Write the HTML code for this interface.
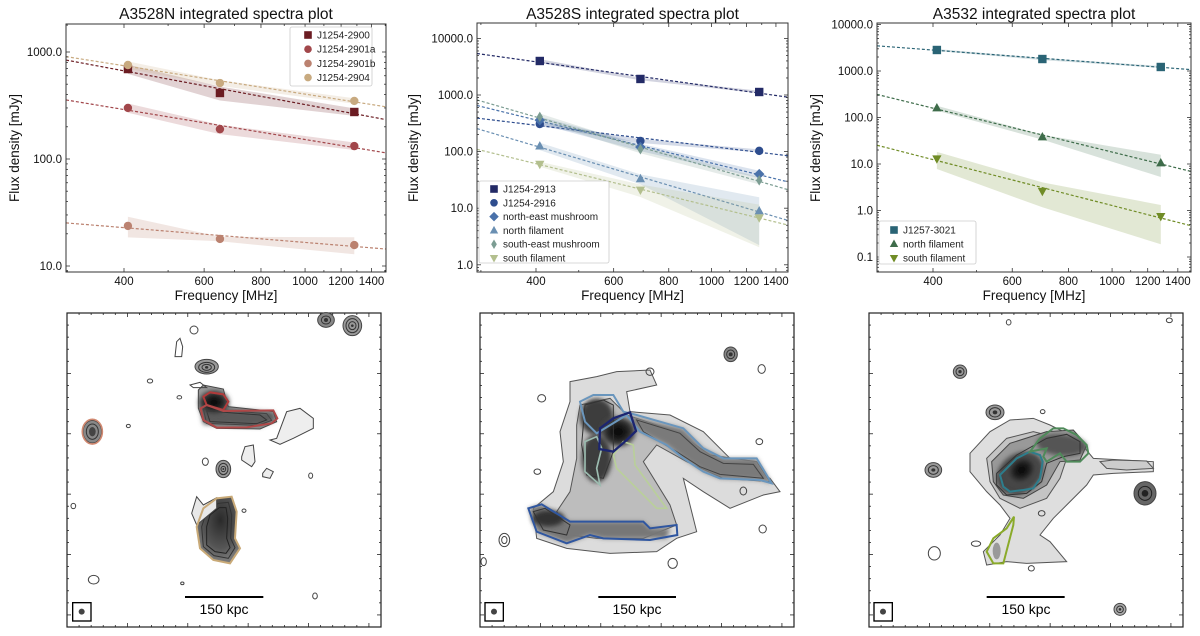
<!DOCTYPE html>
<html><head><meta charset="utf-8">
<style>
html,body{margin:0;padding:0;background:#fff;}
svg{display:block;font-family:"Liberation Sans","DejaVu Sans",sans-serif;}
</style></head>
<body>
<svg id="fig" width="1200" height="636" viewBox="0 0 1200 636" xmlns="http://www.w3.org/2000/svg">
<defs>
<filter id="blur3" x="-30%" y="-30%" width="160%" height="160%"><feGaussianBlur stdDeviation="7"/></filter>
<filter id="blur6" x="-30%" y="-30%" width="160%" height="160%"><feGaussianBlur stdDeviation="20"/></filter>
<radialGradient id="core" cx="50%" cy="50%" r="50%"><stop offset="0" stop-color="#000"/><stop offset="0.6" stop-color="#222"/><stop offset="1" stop-color="#555"/></radialGradient>
<radialGradient id="mid" cx="55%" cy="35%" r="60%"><stop offset="0" stop-color="#2a2a2a"/><stop offset="0.7" stop-color="#555"/><stop offset="1" stop-color="#777"/></radialGradient>
</defs>

<!-- ============ IMAGE PANEL 1 ============ -->
<g>
<rect x="67" y="313" width="314" height="314" fill="#fff" stroke="#222" stroke-width="1.2"/>
<g transform="translate(60,305) scale(0.33333)" fill="none" stroke-width="3">
  <path d="M415,255 L430,240 L490,252 L500,290 L505,305 L600,315 L640,320 L650,350 L600,372 L470,370 L430,350 L415,310 Z" fill="#9a9a9a" stroke="#444"/>
  <path d="M420,305 L640,322 L645,345 L600,365 L430,358 Z" fill="#5a5a5a" stroke="none" filter="url(#blur3)"/>
  <path d="M440,318 L600,330 L620,345 L590,356 L450,350 Z" stroke="#333"/>
  <path d="M430,312 L620,326 L635,346 L595,361 L440,355 Z" stroke="#444"/>
  <ellipse cx="462" cy="292" rx="46" ry="36" fill="url(#core)" filter="url(#blur3)"/>
  <path d="M410,665 L430,610 L470,580 L515,575 L530,620 L525,700 L540,730 L510,775 L460,765 L420,730 Z" fill="url(#mid)"/>
  <path d="M425,665 L440,620 L475,595 L505,592 L515,630 L512,700 L525,728 L505,760 L462,752 L430,725 Z" stroke="#333"/>
  <path d="M440,665 L450,630 L478,608 L498,608 L503,640 L500,700 L510,728 L498,745 L465,740 L440,720 Z" stroke="#222"/>
  <path d="M395,625 L410,575 L430,600 L470,578 L470,610 L410,660 Z" fill="#e8e8e8" stroke="#444"/>
  <path d="M650,400 L680,320 L720,310 L760,340 L760,370 L700,400 L660,418 L630,405 Z" fill="#eee" stroke="#444"/>
  <path d="M545,455 L555,425 L580,420 L585,470 L575,485 L545,465 Z" fill="#eee" stroke="#444"/>
  <path d="M608,505 L620,490 L640,500 L630,520 L608,515 Z" fill="#eee" stroke="#444"/>
  <path d="M350,110 L360,100 L368,125 L365,155 L345,155 Z" stroke="#444"/>
  <path d="M390,240 L420,232 L440,248 L400,248 Z" stroke="#444"/>
  <ellipse cx="440" cy="185" rx="35" ry="22" fill="#999" stroke="#444"/>
  <ellipse cx="440" cy="187" rx="24" ry="15" stroke="#333"/>
  <ellipse cx="440" cy="187" rx="14" ry="9" stroke="#333"/>
  <ellipse cx="440" cy="187" rx="5" ry="4" fill="#333"/>
  <ellipse cx="490" cy="492" rx="22" ry="26" fill="#999" stroke="#444"/>
  <ellipse cx="490" cy="492" rx="14" ry="17" stroke="#333"/>
  <ellipse cx="490" cy="492" rx="7" ry="8" stroke="#333"/>
  <ellipse cx="490" cy="492" rx="3" ry="3" fill="#333"/>
  <ellipse cx="798" cy="45" rx="25" ry="22" fill="#888" stroke="#444"/>
  <ellipse cx="798" cy="45" rx="14" ry="12" stroke="#333"/>
  <ellipse cx="798" cy="45" rx="6" ry="6" fill="#333"/>
  <ellipse cx="877" cy="62" rx="28" ry="30" fill="#999" stroke="#444"/>
  <ellipse cx="877" cy="62" rx="19" ry="21" stroke="#333"/>
  <ellipse cx="877" cy="62" rx="11" ry="12" stroke="#333"/>
  <ellipse cx="877" cy="62" rx="4" ry="4" fill="#333"/>
  <ellipse cx="97" cy="380" rx="28" ry="34" fill="#888" stroke="#444"/>
  <ellipse cx="97" cy="380" rx="18" ry="23" stroke="#333"/>
  <ellipse cx="97" cy="380" rx="10" ry="14" fill="#444"/>
  <ellipse cx="97" cy="380" rx="30" ry="37" stroke="#d08870" stroke-width="5"/>
  <path d="M430,275 L450,262 L490,268 L505,290 L490,315 L440,300 Z" stroke="#b03a3a" stroke-width="6"/>
  <path d="M422,310 L440,300 L490,318 L640,316 L652,340 L635,355 L560,367 L470,368 L430,345 Z" stroke="#b04848" stroke-width="6"/>
  <path d="M410,665 L430,610 L470,580 L515,575 L530,620 L525,700 L540,730 L510,775 L460,765 L420,730 Z" stroke="#c9aa78" stroke-width="6"/>
  <ellipse cx="402" cy="75" rx="12" ry="12" stroke="#444"/>
  <ellipse cx="270" cy="228" rx="8" ry="6" stroke="#444"/>
  <ellipse cx="358" cy="277" rx="7" ry="5" stroke="#444"/>
  <ellipse cx="205" cy="363" rx="6" ry="5" stroke="#444"/>
  <ellipse cx="436" cy="470" rx="9" ry="11" stroke="#444"/>
  <ellipse cx="752" cy="512" rx="6" ry="8" stroke="#444"/>
  <ellipse cx="40" cy="603" rx="7" ry="8" stroke="#444"/>
  <ellipse cx="552" cy="617" rx="6" ry="5" stroke="#444"/>
  <ellipse cx="101" cy="824" rx="16" ry="13" stroke="#444"/>
  <ellipse cx="367" cy="835" rx="5" ry="4" stroke="#444"/>
  <ellipse cx="765" cy="873" rx="7" ry="9" stroke="#444"/>
  <line x1="375" y1="876" x2="610" y2="876" stroke="#000" stroke-width="6"/>
  <rect x="38" y="893" width="55" height="55" stroke="#000" stroke-width="4" fill="#fff"/>
  <circle cx="65" cy="920" r="9" fill="#444"/>
</g>
<text x="224" y="614" font-size="14" text-anchor="middle">150 kpc</text>
</g>

<!-- ============ IMAGE PANEL 2 ============ -->
<g>
<rect x="480" y="313" width="314" height="314" fill="#fff" stroke="#222" stroke-width="1.2"/>
<g transform="translate(470,305) scale(0.33333)" fill="none" stroke-width="3">
  <path d="M300,230 L380,215 L440,200 L540,195 L560,240 L470,260 L480,320 L600,330 L700,380 L780,460 L900,520 L930,560 L880,570 L780,610 L700,560 L640,520 L660,600 L680,680 L620,700 L560,740 L420,745 L290,730 L200,700 L190,610 L250,560 L280,470 L270,380 L300,290 Z" fill="#dcdcdc" stroke="#555"/>
  <path d="M330,300 L420,280 L470,330 L620,380 L720,450 L860,470 L900,530 L760,520 L650,470 L560,420 L520,470 L600,600 L620,660 L520,700 L380,700 L300,690 L260,620 L300,560 L320,460 L320,360 Z" fill="#bdbdbd" stroke="#555"/>
  <path d="M470,330 L640,370 L700,430 L760,460 L860,460 L905,535 L870,525 L750,520 L700,500 L640,460 L590,420 L510,380 Z" fill="#7a7a7a" filter="url(#blur3)"/>
  <path d="M500,345 L630,385 L690,440 L760,475 L850,478 L880,520 L750,508 L690,485 L620,440 L520,380 Z" stroke="#444"/>
  <ellipse cx="380" cy="460" rx="45" ry="72" fill="#3c3c3c" filter="url(#blur3)"/>
  <ellipse cx="380" cy="335" rx="50" ry="55" fill="#3c3c3c" filter="url(#blur3)"/>
  <ellipse cx="445" cy="380" rx="52" ry="45" fill="url(#core)" filter="url(#blur3)"/>
  <path d="M345,300 L400,285 L430,300 L430,440 L400,520 L350,510 L335,420 Z" stroke="#333"/>
  <path d="M175,610 L215,598 L300,650 L520,650 L540,670 L600,670 L590,700 L400,700 L360,690 L290,715 L200,680 Z" fill="#777" filter="url(#blur3)"/>
  <ellipse cx="235" cy="640" rx="48" ry="24" fill="#333" filter="url(#blur3)"/>
  <path d="M190,620 L225,610 L300,660 L290,690 L220,675 Z" stroke="#333"/>
  <path d="M330,290 L370,270 L430,270 L460,320 L500,330 L640,370 L700,430 L760,460 L860,460 L905,535 L870,525 L750,520 L700,500 L640,460 L590,420 L510,380 L470,330 L380,385 L345,350 Z" stroke="#6a96bd" stroke-width="6"/>
  <path d="M345,410 L380,395 L395,430 L380,490 L390,540 L345,500 Z" stroke="#9cbcb0" stroke-width="5"/>
  <path d="M430,450 L460,410 L490,420 L495,480 L590,610 L560,610 L470,520 L440,490 Z" stroke="#b9cf9a" stroke-width="5"/>
  <path d="M175,610 L215,598 L300,650 L520,650 L540,670 L620,660 L622,690 L540,705 L400,700 L360,690 L290,715 L200,680 Z" stroke="#2f56a0" stroke-width="6"/>
  <path d="M390,370 L430,340 L480,322 L498,378 L470,405 L430,440 L388,432 Z" stroke="#1c2570" stroke-width="7"/>
  <ellipse cx="782" cy="148" rx="20" ry="22" fill="#888" stroke="#444"/>
  <ellipse cx="782" cy="148" rx="12" ry="13" stroke="#333"/>
  <ellipse cx="782" cy="148" rx="6" ry="6" fill="#333"/>
  <ellipse cx="215" cy="280" rx="12" ry="11" stroke="#444"/>
  <ellipse cx="540" cy="200" rx="12" ry="11" stroke="#444"/>
  <ellipse cx="875" cy="192" rx="11" ry="13" stroke="#444"/>
  <ellipse cx="868" cy="410" rx="10" ry="9" stroke="#444"/>
  <ellipse cx="202" cy="500" rx="10" ry="8" stroke="#444"/>
  <ellipse cx="820" cy="558" rx="10" ry="12" stroke="#444"/>
  <ellipse cx="878" cy="672" rx="11" ry="12" stroke="#444"/>
  <ellipse cx="103" cy="705" rx="16" ry="20" stroke="#444"/>
  <ellipse cx="103" cy="705" rx="8" ry="11" stroke="#444"/>
  <ellipse cx="608" cy="775" rx="14" ry="15" stroke="#444"/>
  <ellipse cx="41" cy="770" rx="8" ry="12" stroke="#444"/>
  <line x1="385" y1="876" x2="618" y2="876" stroke="#000" stroke-width="6"/>
  <rect x="45" y="893" width="55" height="55" stroke="#000" stroke-width="4" fill="#fff"/>
  <circle cx="72" cy="920" r="9" fill="#444"/>
</g>
<text x="637" y="614" font-size="14" text-anchor="middle">150 kpc</text>
</g>

<!-- ============ IMAGE PANEL 3 ============ -->
<g>
<rect x="869" y="313" width="314" height="314" fill="#fff" stroke="#222" stroke-width="1.2"/>
<g transform="translate(860,305) scale(0.33333)" fill="none" stroke-width="3">
  <path d="M330,445 L390,380 L450,345 L520,340 L570,360 L650,400 L700,460 L880,470 L880,500 L760,505 L700,510 L680,540 L620,600 L580,640 L540,690 L570,710 L620,770 L500,775 L440,770 L380,780 L370,740 L420,690 L450,640 L420,600 L380,560 L330,500 Z" fill="#dedede" stroke="#555"/>
  <path d="M380,460 L440,400 L520,380 L600,400 L620,460 L600,520 L560,580 L480,610 L420,580 L390,530 Z" fill="#c4c4c4" stroke="#555"/>
  <path d="M395,470 L450,415 L560,380 L640,375 L680,420 L660,465 L600,470 L560,540 L490,580 L430,570 L400,530 Z" fill="#999" stroke="#444"/>
  <ellipse cx="605" cy="420" rx="75" ry="32" fill="#555" filter="url(#blur3)" transform="rotate(5 605 420)"/>
  <ellipse cx="480" cy="505" rx="75" ry="58" fill="#444" filter="url(#blur3)" transform="rotate(-35 480 505)"/>
  <ellipse cx="485" cy="495" rx="48" ry="40" fill="url(#core)" filter="url(#blur3)" transform="rotate(-35 485 495)"/>
  <path d="M410,505 L470,450 L560,400 L620,388 L660,410 L660,445 L610,455 L560,475 L545,530 L500,565 L440,570 L410,540 Z" stroke="#333"/>
  <path d="M420,510 L470,460 L510,440 L540,450 L548,470 L540,520 L520,550 L490,555 L450,560 L430,545 Z" stroke="#2d7d8c" stroke-width="6"/>
  <path d="M510,440 L540,400 L580,370 L610,370 L650,390 L680,420 L685,445 L660,470 L620,470 L600,445 L560,470 L550,455 L560,430 Z" stroke="#4f8a5a" stroke-width="6"/>
  <ellipse cx="410" cy="738" rx="12" ry="25" fill="#999"/>
  <path d="M380,740 L400,700 L440,670 L462,635 L460,660 L430,775 L400,775 Z" stroke="#8aaa2a" stroke-width="6"/>
  <path d="M720,470 L760,465 L860,468 L880,490 L800,495 L740,490 Z" fill="#ccc" stroke="#555"/>
  <ellipse cx="300" cy="200" rx="20" ry="20" fill="#999" stroke="#444"/><ellipse cx="300" cy="200" rx="12" ry="12" stroke="#333"/><ellipse cx="300" cy="200" rx="5" ry="5" fill="#333"/>
  <ellipse cx="405" cy="322" rx="27" ry="22" fill="#999" stroke="#444"/><ellipse cx="405" cy="322" rx="17" ry="14" stroke="#333"/><ellipse cx="405" cy="322" rx="7" ry="6" fill="#333"/>
  <ellipse cx="220" cy="495" rx="25" ry="22" fill="#999" stroke="#444"/><ellipse cx="220" cy="495" rx="15" ry="13" stroke="#333"/><ellipse cx="220" cy="495" rx="6" ry="5" fill="#333"/>
  <ellipse cx="855" cy="565" rx="33" ry="35" fill="#666" stroke="#444"/><ellipse cx="855" cy="565" rx="20" ry="21" stroke="#222"/><ellipse cx="855" cy="565" rx="10" ry="10" fill="#222"/>
  <ellipse cx="780" cy="913" rx="18" ry="18" fill="#aaa" stroke="#444"/><ellipse cx="780" cy="913" rx="10" ry="10" stroke="#333"/><ellipse cx="780" cy="913" rx="4" ry="4" fill="#333"/>
  <ellipse cx="446" cy="52" rx="7" ry="8" stroke="#444"/>
  <ellipse cx="928" cy="46" rx="9" ry="7" stroke="#444"/>
  <ellipse cx="548" cy="320" rx="7" ry="6" stroke="#444"/>
  <ellipse cx="348" cy="716" rx="14" ry="8" stroke="#444"/>
  <ellipse cx="223" cy="745" rx="18" ry="20" stroke="#444"/>
  <ellipse cx="514" cy="790" rx="9" ry="8" stroke="#444"/>
  <ellipse cx="545" cy="625" rx="10" ry="8" stroke="#444"/>
  <line x1="380" y1="876" x2="614" y2="876" stroke="#000" stroke-width="6"/>
  <rect x="42" y="893" width="55" height="55" stroke="#000" stroke-width="4" fill="#fff"/>
  <circle cx="69" cy="920" r="9" fill="#444"/>
</g>
<text x="1026" y="614" font-size="14" text-anchor="middle">150 kpc</text>
</g>

<g id="imgticks"></g>
<g id="charts"></g>
</svg>

<script>
// ---------- Data: panel A3528N ----------
const freqA = [408, 650, 1283];
const namesA = ["J1254-2900", "J1254-2901a", "J1254-2901b", "J1254-2904"];
const fluxA_2900 = [693, 414, 275];
const fluxA_2901a = [300, 190, 132];
const fluxA_2901b = [23.7, 17.9, 15.7];
const fluxA_2904 = [756, 513, 349];
const errA_2900 = [0.10, 0.15, 0.08];
const errA_2901a = [0.10, 0.10, 0.08];
const errA_2901b = [0.22, 0.05, 0.18];
const errA_2904 = [0.08, 0.06, 0.06];

// ---------- Data: panel A3528S ----------
const freqB = [408, 690, 1283];
const namesB = ["J1254-2913", "J1254-2916", "north-east mushroom", "north filament", "south-east mushroom", "south filament"];
const fluxB_2913 = [3990, 1920, 1130];
const fluxB_2916 = [307, 154, 103];
const fluxB_nem = [360, 120, 40];
const fluxB_nf = [125, 33, 8.9];
const fluxB_sem = [410, 110, 31];
const fluxB_sf = [60, 21, 6.8];
const errB_2913 = [0.08, 0.05, 0.05];
const errB_2916 = [0.08, 0.08, 0.06];
const errB_nem = [0.15, 0.15, 0.15];
const errB_nf = [0.15, 0.2, 0.75];
const errB_sem = [0.15, 0.15, 0.15];
const errB_sf = [0.1, 0.25, 0.7];

// ---------- Data: panel A3532 ----------
const freqC = [408, 700, 1283];
const namesC = ["J1257-3021", "north filament", "south filament"];
const fluxC_3021 = [2830, 1810, 1220];
const fluxC_nf = [160, 38, 10.5];
const fluxC_sf = [13, 2.6, 0.75];
const errC_3021 = [0.05, 0.05, 0.05];
const errC_nf = [0.12, 0.12, 0.5];
const errC_sf = [0.4, 0.55, 0.75];

const xTickLabels = [400, 600, 800, 1000, 1200, 1400];
const xMinorTicks = [300, 500, 700, 900, 1100, 1300, 1500];

const NS = "http://www.w3.org/2000/svg";
function mk(tag, attrs, parent) {
  const e = document.createElementNS(NS, tag);
  for (const k in attrs) e.setAttribute(k, attrs[k]);
  if (parent) parent.appendChild(e);
  return e;
}

function marker(g, shape, x, y, color, s) {
  let e;
  if (shape === "s") e = mk("rect", {x: x - s, y: y - s, width: 2 * s, height: 2 * s, fill: color}, g);
  else if (shape === "o") e = mk("circle", {cx: x, cy: y, r: s, fill: color}, g);
  else if (shape === "D") e = mk("polygon", {points: `${x},${y - s * 1.25} ${x + s * 1.25},${y} ${x},${y + s * 1.25} ${x - s * 1.25},${y}`, fill: color}, g);
  else if (shape === "d") e = mk("polygon", {points: `${x},${y - s * 1.25} ${x + s * 0.75},${y} ${x},${y + s * 1.25} ${x - s * 0.75},${y}`, fill: color}, g);
  else if (shape === "^") e = mk("polygon", {points: `${x},${y - s * 1.2} ${x + s * 1.1},${y + s * 0.8} ${x - s * 1.1},${y + s * 0.8}`, fill: color}, g);
  else e = mk("polygon", {points: `${x},${y + s * 1.2} ${x + s * 1.1},${y - s * 0.8} ${x - s * 1.1},${y - s * 0.8}`, fill: color}, g);
  return e;
}

function panel(cfg) {
  const root = document.getElementById("charts");
  const g = mk("g", {}, root);
  
  
  const L = cfg.box[0], T = cfg.box[1], R = cfg.box[2], B = cfg.box[3];
  const xs = f => cfg.x400 + cfg.xdec * Math.log10(f / 400);
  const ys = v => cfg.y1000 - cfg.ydec * (Math.log10(v) - 3);
  const clip = mk("clipPath", {id: cfg.id + "-clip"}, g);
  mk("rect", {x: L, y: T, width: R - L, height: B - T}, clip);
  const plot = mk("g", {"clip-path": `url(#${cfg.id}-clip)`}, g);
  const fmin = 400 * Math.pow(10, (L - cfg.x400) / cfg.xdec);
  const fmax = 400 * Math.pow(10, (R - cfg.x400) / cfg.xdec);
  cfg.series.forEach(s => {
    let up = [], lo = [];
    for (let i = 0; i < cfg.freq.length; i++) {
      up.push(`${xs(cfg.freq[i]).toFixed(1)},${ys(s.v[i] * (1 + s.e[i])).toFixed(1)}`);
      lo.unshift(`${xs(cfg.freq[i]).toFixed(1)},${ys(s.v[i] * Math.max(0.05, 1 - s.e[i])).toFixed(1)}`);
    }
    const band = mk("polygon", {points: up.concat(lo).join(" "), fill: s.c, opacity: 0.2}, plot);
    
    
    const lx = cfg.freq.map(f => Math.log10(f)), ly = s.v.map(v => Math.log10(v));
    const n = lx.length, mx = lx.reduce((a, b) => a + b) / n, my = ly.reduce((a, b) => a + b) / n;
    let sxy = 0, sxx = 0;
    for (let i = 0; i < n; i++) { sxy += (lx[i] - mx) * (ly[i] - my); sxx += (lx[i] - mx) ** 2; }
    const sl = sxy / sxx;
    const yf = f => Math.pow(10, my + sl * (Math.log10(f) - mx));
    const line = mk("line", {x1: xs(fmin), y1: ys(yf(fmin)), x2: xs(fmax), y2: ys(yf(fmax)), stroke: s.c, "stroke-width": 1.2, "stroke-dasharray": "3,2"}, plot);
    
    
  });
  cfg.series.forEach(s => {
    for (let i = 0; i < cfg.freq.length; i++) {
      const m = marker(plot, s.m, xs(cfg.freq[i]), ys(s.v[i]), s.c, 4.2);
      
      
    }
  });
  mk("rect", {x: L, y: T, width: R - L, height: B - T, fill: "none", stroke: "#333", "stroke-width": 1}, g);
  const lo = Math.floor(Math.log10(cfg.yTicks[0])) - 1, hi = Math.log10(cfg.yTicks[cfg.yTicks.length - 1]) + 1;
  for (let d = lo; d <= hi; d++) {
    for (let k = 1; k < 10; k++) {
      const v = k * Math.pow(10, d), y = ys(v);
      if (y < T || y > B) continue;
      const len = k === 1 ? 4 : 2;
      mk("line", {x1: L, y1: y, x2: L + len, y2: y, stroke: "#333", "stroke-width": 0.8}, g);
      mk("line", {x1: R, y1: y, x2: R - len, y2: y, stroke: "#333", "stroke-width": 0.8}, g);
    }
  }
  cfg.yTicks.forEach(v => {
    const t = mk("text", {x: L - 4, y: ys(v) + 4, "font-size": 11.5, "text-anchor": "end", fill: "#111"}, g);
    t.textContent = v.toFixed(1);
    
    
  });
  xTickLabels.forEach(f => {
    const x = xs(f);
    mk("line", {x1: x, y1: B, x2: x, y2: B - 4, stroke: "#333", "stroke-width": 0.8}, g);
    mk("line", {x1: x, y1: T, x2: x, y2: T + 4, stroke: "#333", "stroke-width": 0.8}, g);
    const t = mk("text", {x: x, y: B + 13, "font-size": 11.5, "text-anchor": "middle", fill: "#111"}, g);
    t.textContent = f;
    
    
  });
  xMinorTicks.forEach(f => {
    const x = xs(f);
    if (x < L || x > R) return;
    mk("line", {x1: x, y1: B, x2: x, y2: B - 2, stroke: "#333", "stroke-width": 0.8}, g);
    mk("line", {x1: x, y1: T, x2: x, y2: T + 2, stroke: "#333", "stroke-width": 0.8}, g);
  });
  const title = mk("text", {x: (L + R) / 2 + cfg.tOff, y: 19, "font-size": 15.5, "text-anchor": "middle", fill: "#111"}, g);
  title.textContent = cfg.title;
  
  
  const xl = mk("text", {x: (L + R) / 2 + cfg.tOff, y: 300, "font-size": 13.5, "text-anchor": "middle", fill: "#111"}, g);
  xl.textContent = "Frequency [MHz]";
  
  
  const yl = mk("text", {x: 0, y: 0, "font-size": 13.5, "text-anchor": "middle", fill: "#111", transform: `translate(${cfg.ylx},148) rotate(-90)`}, g);
  yl.textContent = "Flux density [mJy]";
  
  
  const lg = mk("g", {}, g);
  
  
  const lb = cfg.legend;
  mk("rect", {x: lb.x, y: lb.y, width: lb.w, height: lb.h, rx: 2, fill: "#fff", stroke: "#ccc", "stroke-width": 0.8}, lg);
  cfg.series.forEach((s, i) => {
    const yy = lb.y0 + i * lb.dy;
    const m = marker(lg, s.m, lb.mx, yy, s.c, 3.8);
    
    
    const t = mk("text", {x: lb.mx + 9, y: yy + 3.5, "font-size": 10, fill: "#222"}, lg);
    t.textContent = s.name;
    
    
  });
}

panel({id: "a3528n-spectra", title: "A3528N integrated spectra plot", box: [66, 24, 386, 272], x400: 124, xdec: 455, y1000: 52, ydec: 107,
  yTicks: [10, 100, 1000], freq: freqA, tOff: 0, ylx: 19,
  legend: {x: 290, y: 27, w: 82, h: 59, mx: 308, y0: 35, dy: 14.2},
  series: [
    {key: "j1254-2900", name: namesA[0], v: fluxA_2900, e: errA_2900, c: "#6b1c22", m: "s"},
    {key: "j1254-2901a", name: namesA[1], v: fluxA_2901a, e: errA_2901a, c: "#a2474b", m: "o"},
    {key: "j1254-2901b", name: namesA[2], v: fluxA_2901b, e: errA_2901b, c: "#bb8270", m: "o"},
    {key: "j1254-2904", name: namesA[3], v: fluxA_2904, e: errA_2904, c: "#c8aa80", m: "o"}
  ]});

panel({id: "a3528s-spectra", title: "A3528S integrated spectra plot", box: [477, 23, 788, 272], x400: 536, xdec: 441, y1000: 95, ydec: 56.6,
  yTicks: [1, 10, 100, 1000, 10000], freq: freqB, tOff: 0, ylx: 418,
  legend: {x: 479, y: 181, w: 130, h: 82, mx: 494, y0: 189, dy: 13.8},
  series: [
    {key: "j1254-2913", name: namesB[0], v: fluxB_2913, e: errB_2913, c: "#232a66", m: "s"},
    {key: "j1254-2916", name: namesB[1], v: fluxB_2916, e: errB_2916, c: "#2e4d8e", m: "o"},
    {key: "ne-mushroom", name: namesB[2], v: fluxB_nem, e: errB_nem, c: "#4a72aa", m: "D"},
    {key: "north-filament", name: namesB[3], v: fluxB_nf, e: errB_nf, c: "#6a8fb2", m: "^"},
    {key: "se-mushroom", name: namesB[4], v: fluxB_sem, e: errB_sem, c: "#7c9d93", m: "d"},
    {key: "south-filament", name: namesB[5], v: fluxB_sf, e: errB_sf, c: "#b3bf8e", m: "v"}
  ]});

panel({id: "a3532-spectra", title: "A3532 integrated spectra plot", box: [877, 23, 1191, 272], x400: 933, xdec: 450, y1000: 71, ydec: 46.5,
  yTicks: [0.1, 1, 10, 100, 1000, 10000], freq: freqC, tOff: 0, ylx: 820,
  legend: {x: 879, y: 221, w: 97, h: 43, mx: 894, y0: 230, dy: 14},
  series: [
    {key: "j1257-3021", name: namesC[0], v: fluxC_3021, e: errC_3021, c: "#2a6475", m: "s"},
    {key: "north-filament", name: namesC[1], v: fluxC_nf, e: errC_nf, c: "#3e6c4a", m: "^"},
    {key: "south-filament", name: namesC[2], v: fluxC_sf, e: errC_sf, c: "#708c26", m: "v"}
  ]});

(function () {
  const tg = document.getElementById("imgticks");
  const boxes = [[67, 313], [480, 313], [869, 313]];
  boxes.forEach(b => {
    for (let i = 1; i < 26; i++) {
      const p = i * 314 / 26;
      const len = i % 5 === 0 ? 4 : 2;
      mk("line", {x1: b[0] + p, y1: b[1] + 314, x2: b[0] + p, y2: b[1] + 314 - len, stroke: "#222", "stroke-width": 0.8}, tg);
      mk("line", {x1: b[0] + p, y1: b[1], x2: b[0] + p, y2: b[1] + len, stroke: "#222", "stroke-width": 0.8}, tg);
      mk("line", {x1: b[0], y1: b[1] + p, x2: b[0] + len, y2: b[1] + p, stroke: "#222", "stroke-width": 0.8}, tg);
      mk("line", {x1: b[0] + 314, y1: b[1] + p, x2: b[0] + 314 - len, y2: b[1] + p, stroke: "#222", "stroke-width": 0.8}, tg);
    }
  });
})();
</script>
</body></html>
